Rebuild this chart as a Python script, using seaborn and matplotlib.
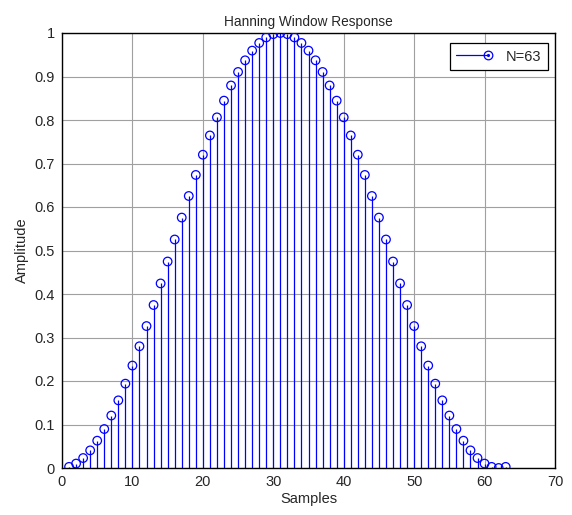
import numpy as np
import pandas as pd
import matplotlib
matplotlib.use("Agg")
import matplotlib.pyplot as plt
import seaborn as sns
from matplotlib.legend_handler import HandlerLine2D
from matplotlib.lines import Line2D

samples = list(range(1, 64))
amplitude = [0.0026, 0.0102, 0.0229, 0.0405, 0.0628, 0.0896, 0.1206, 0.1555,
             0.1939, 0.2355, 0.2798, 0.3263, 0.3747, 0.4243, 0.4747, 0.5253,
             0.5757, 0.6253, 0.6737, 0.7202, 0.7645, 0.8061, 0.8445, 0.8794,
             0.9104, 0.9372, 0.9595, 0.9771, 0.9898, 0.9974, 1.0000, 0.9974,
             0.9898, 0.9771, 0.9595, 0.9372, 0.9104, 0.8794, 0.8445, 0.8061,
             0.7645, 0.7202, 0.6737, 0.6253, 0.5757, 0.5253, 0.4747, 0.4243,
             0.3747, 0.3263, 0.2798, 0.2355, 0.1939, 0.1555, 0.1206, 0.0896,
             0.0628, 0.0405, 0.0229, 0.0102, 0.0026, 0.0000, 0.0026]
series_label = "N=63"
title = "Hanning Window Response"
x_ticks = [0, 10, 20, 30, 40, 50, 60, 70]
y_ticks = [0, 0.1, 0.2, 0.3, 0.4, 0.5, 0.6, 0.7, 0.8, 0.9, 1.0]
y_tick_labels = ["0", "0.1", "0.2", "0.3", "0.4", "0.5", "0.6", "0.7", "0.8", "0.9", "1"]

df = pd.DataFrame({"Samples": samples, "Amplitude": amplitude})

sns.set_style("white")
plt.rcParams['font.family'] = ['Liberation Sans', 'DejaVu Sans']

fig = plt.figure(figsize=(5.72, 5.15), dpi=100)
ax = fig.add_axes([62/572, 1 - 468/515, (555-62)/572, (468-33)/515])

blue = "#0000ff"
ax.vlines(df["Samples"], 0, df["Amplitude"], color=blue, linewidth=0.9, zorder=2)
sns.scatterplot(data=df, x="Samples", y="Amplitude", ax=ax, marker="o",
                s=38, facecolor="none", edgecolor=blue, linewidth=0.9, zorder=3,
                legend=False)

ax.set_xlim(0, 70)
ax.set_ylim(0, 1)
ax.set_xticks(x_ticks)
ax.set_yticks(y_ticks)
ax.set_yticklabels(y_tick_labels)
ax.grid(True, color="#a0a0a0", linewidth=0.8, zorder=0)
ax.set_axisbelow(True)
ax.tick_params(direction="in", length=4, labelsize=10.5, color="black", pad=5)
for s in ax.spines.values():
    s.set_color("black")
    s.set_linewidth(1.0)
ax.set_xlabel("Samples", fontsize=10.5, labelpad=2)
ax.set_ylabel("Amplitude", fontsize=10.5, labelpad=4)
ax.set_title(title, fontsize=9.8, pad=5)


class RightMarkerHandler(HandlerLine2D):
    def create_artists(self, legend, orig_handle, xdescent, ydescent, width,
                       height, fontsize, trans):
        ydata = np.full(2, (height - ydescent) / 2)
        xdata = np.array([-xdescent, width - xdescent])
        line = Line2D(xdata, ydata, color=blue, linewidth=0.9)
        line.set_transform(trans)
        m1 = Line2D([xdata[1]], [ydata[0]], marker="o", markersize=6.2,
                    markerfacecolor="none", markeredgecolor=blue,
                    markeredgewidth=0.9, linestyle="none")
        m1.set_transform(trans)
        m2 = Line2D([xdata[1]], [ydata[0]], marker=".", markersize=2.5,
                    color=blue, linestyle="none")
        m2.set_transform(trans)
        return [line, m1, m2]


handle = Line2D([0], [0], color=blue)
leg = ax.legend([handle], [series_label], loc="upper right",
                handler_map={Line2D: RightMarkerHandler()},
                handlelength=2.2, fontsize=10.5, fancybox=False,
                edgecolor="black", framealpha=1, borderpad=0.45,
                handletextpad=1.2, borderaxespad=0,
                bbox_to_anchor=((548-62)/493, (468-43)/435))
leg.get_frame().set_linewidth(0.9)

fig.savefig("out.png", dpi=100)
